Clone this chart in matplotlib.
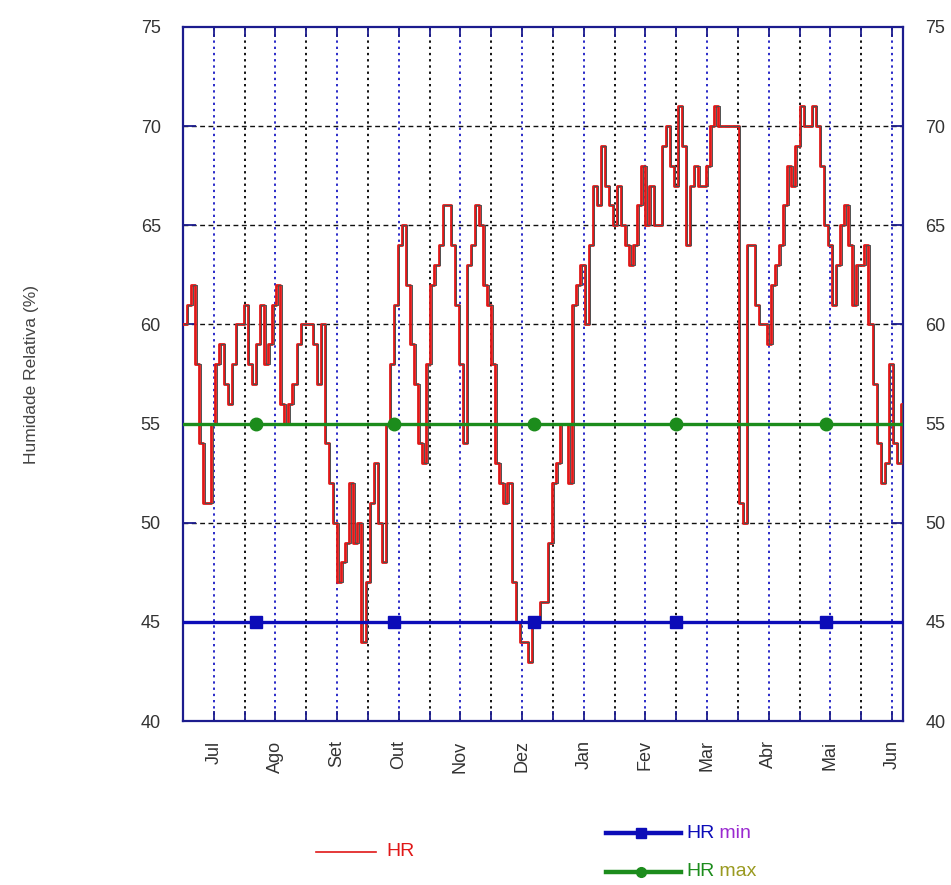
import numpy as np
import matplotlib.pyplot as plt
from matplotlib.lines import Line2D

plt.rcParams['font.family'] = ['Liberation Sans', 'DejaVu Sans']

# humidade relativa diaria (leitura a cada 2 dias), de meados de Junho a Junho
hr = [60, 61, 62, 58, 54, 51, 51, 55, 58, 59, 57, 56, 58, 60, 60, 61,
      58, 57, 59, 61, 58, 59, 61, 62, 56, 55, 56, 57, 59, 60, 60, 60,
      59, 57, 60, 54, 52, 50, 47, 48, 49, 52, 49, 50, 44, 47, 51, 53,
      50, 48, 55, 58, 61, 64, 65, 62, 59, 57, 54, 53, 58, 62, 63, 64,
      66, 66, 64, 61, 58, 54, 63, 64, 66, 65, 62, 61, 58, 53, 52, 51,
      52, 47, 45, 44, 44, 43, 45, 45, 46, 46, 49, 52, 53, 55, 55, 52,
      61, 62, 63, 60, 64, 67, 66, 69, 67, 66, 65, 67, 65, 64, 63, 64,
      66, 68, 65, 67, 65, 65, 69, 70, 68, 67, 71, 69, 64, 67, 68, 67,
      67, 68, 70, 71, 70, 70, 70, 70, 70, 51, 50, 64, 64, 61, 60, 60,
      59, 62, 63, 64, 66, 68, 67, 69, 71, 70, 70, 71, 70, 68, 65, 64,
      61, 63, 65, 66, 64, 61, 63, 63, 64, 60, 57, 54, 52, 53, 58, 54,
      53, 56, 60]
days = np.arange(len(hr)) * 2

hr_min = 45
hr_max = 55
marker_days = [36, 104, 173, 243, 317]

months = ['Jul', 'Ago', 'Set', 'Out', 'Nov', 'Dez',
          'Jan', 'Fev', 'Mar', 'Abr', 'Mai', 'Jun']
month_len = 30.4
first_month = 15.2
span = 355

navy = '#1c1c8e'
blue = '#0c0cb8'
green = '#1c8c1c'
red = '#e01818'
txt = '#333333'

fig = plt.figure(figsize=(9.51, 8.85), dpi=100)
ax = fig.add_axes([0.1924, 0.1853, 0.7571, 0.7842])

# grelha: meses a azul, meios de mes a preto
month_pos = first_month + month_len * np.arange(len(months))
half_pos = month_pos[:-1] + month_len / 2
for x in month_pos:
    ax.axvline(x, color='#2a2ac8', ls=(0, (1.2, 2.0)), lw=1.4, zorder=1)
for x in half_pos:
    ax.axvline(x, color='#111111', ls=(0, (1.2, 2.0)), lw=1.4, zorder=1)
for y in range(45, 75, 5):
    ax.axhline(y, color='#111111', ls=(0, (3.5, 2.5)), lw=1.0, zorder=1)

# serie HR em degraus
ax.plot(days, hr, drawstyle='steps-post', color=red, lw=2.0, zorder=3)
ax.plot(days + 0.7, hr, drawstyle='steps-post', color='#505050', lw=0.7,
        zorder=4)

# limites min / max
ax.axhline(hr_max, color=green, lw=2.4, zorder=5)
ax.plot(marker_days, [hr_max] * len(marker_days), 'o', color=green, ms=9,
        zorder=6)
ax.axhline(hr_min, color=blue, lw=2.4, zorder=5)
ax.plot(marker_days, [hr_min] * len(marker_days), 's', color=blue, ms=8,
        zorder=6)

ax.set_xlim(0, span)
ax.set_ylim(40, 75)
ax.set_yticks(range(40, 80, 5))
ax.set_xticks(np.sort(np.concatenate([month_pos, half_pos])))
ax.set_xticklabels([months[i // 2] if i % 2 == 0 else ''
                    for i in range(len(months) * 2 - 1)],
                   rotation=90)
ax.tick_params(axis='both', direction='in', color=navy, labelcolor=txt,
               labelsize=13, width=1.3)
ax.tick_params(axis='y', length=9, pad=16, right=True, labelright=True)
ax.tick_params(axis='x', length=7, pad=14, top=True)
for s in ax.spines.values():
    s.set_color(navy)
    s.set_linewidth(1.6)

fig.text(0.033, 0.577, 'Humidade Relativa (%)', rotation=90, ha='center',
         va='center', fontsize=12.5, color='#444444')

# legenda
fig.add_artist(Line2D([316 / 951, 376 / 951], [1 - 852 / 885] * 2,
                      color=red, lw=1.2))
fig.text(386 / 951, 1 - 852 / 885, 'HR', color=red, fontsize=14,
         va='center')
for y, c, word, c2, mk in [(833, blue, 'min', '#9a2ad0', 's'),
                           (872, green, 'max', '#9a9a20', 'o')]:
    fig.add_artist(Line2D([606 / 951, 681 / 951], [1 - y / 885] * 2,
                          color=c, lw=3.2))
    fig.add_artist(Line2D([641 / 951], [1 - y / 885], color=c, marker=mk,
                          ms=7, lw=0))
    t = fig.text(686 / 951, 1 - y / 885, 'HR', color=c, fontsize=14,
                 va='center')
    ax.annotate(' ' + word, xy=(1, 0.5), xycoords=t, va='center',
                color=c2, fontsize=14, annotation_clip=False)

fig.savefig('out.png', dpi=100)
